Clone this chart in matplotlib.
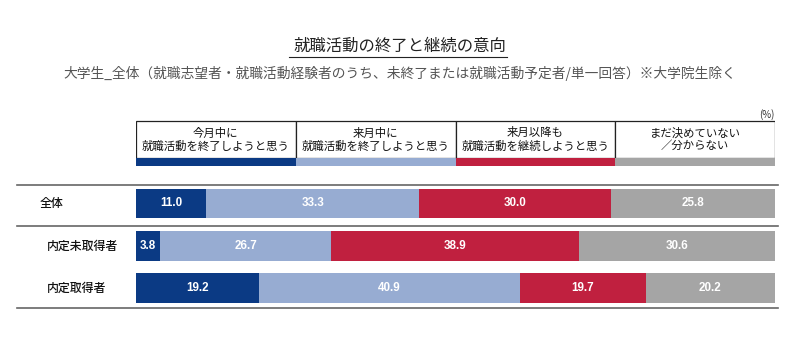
import matplotlib.pyplot as plt
from matplotlib.patches import Rectangle
import numpy as np

plt.rcParams['font.family'] = ['Noto Sans CJK JP', 'DejaVu Sans']

categories = ['全体', '内定未取得者', '内定取得者']
series_names = ['今月中に\n就職活動を終了しようと思う',
                '来月中に\n就職活動を終了しようと思う',
                '来月以降も\n就職活動を継続しようと思う',
                'まだ決めていない\n／分からない']
values = np.array([
    [11.0, 33.3, 30.0, 25.8],
    [3.8, 26.7, 38.9, 30.6],
    [19.2, 40.9, 19.7, 20.2],
])
colors = ['#0b3a84', '#97acd2', '#c0203f', '#a5a5a5']

title = '就職活動の終了と継続の意向'
subtitle = '大学生_全体（就職志望者・就職活動経験者のうち、未終了または就職活動予定者/単一回答）※大学院生除く'

fig = plt.figure(figsize=(8, 3.53), dpi=100)
# axes spans bar area horizontally; y in pixel units (top = 0)
ax = fig.add_axes([136 / 800, 0, 639 / 800, 1])
ax.set_xlim(0, 100)
ax.set_ylim(353, 0)
ax.axis('off')

fig.text(0.5, 1 - 46 / 353, title, ha='center', va='center', fontsize=11.8, color='#222222')
fig.add_artist(plt.Line2D([289 / 800, 507 / 800], [1 - 56.5 / 353, 1 - 56.5 / 353], color='#222222', lw=0.8))
fig.text(0.5, 1 - 73 / 353, subtitle, ha='center', va='center', fontsize=9.9, color='#555555')

# legend header boxes
for i, name in enumerate(series_names):
    ax.add_patch(Rectangle((i * 25, 121), 25, 37, facecolor='white', edgecolor='#222222', lw=0.9))
    ax.add_patch(Rectangle((i * 25, 158), 25, 8, facecolor=colors[i], edgecolor='none'))
    ax.text(i * 25 + 12.5, 139.5, name, ha='center', va='center', fontsize=8.2,
            color='#111111', linespacing=1.2)
ax.text(100, 115, '(%)', ha='right', va='center', fontsize=7, color='#333333')

# bars
centers = [203.5, 246, 288]
lefts = np.zeros(len(categories))
for j in range(values.shape[1]):
    ax.barh(centers, values[:, j], left=lefts, height=29.5, color=colors[j], edgecolor='none')
    for k in range(len(categories)):
        v = values[k, j]
        ax.text(lefts[k] + v / 2, centers[k], f'{v:.1f}', ha='center', va='center', fontsize=8.4,
                color='white', fontweight='bold', family=['Liberation Sans', 'DejaVu Sans'])
    lefts += values[:, j]

# row labels
label_x = [40, 47, 47]
for k, cat in enumerate(categories):
    ax.text((label_x[k] - 136) / 639 * 100, centers[k], cat, ha='left', va='center',
            fontsize=8.6, color='#111111', fontweight='medium', clip_on=False)

# separators
for y in [185, 226, 308]:
    ax.plot([(17 - 136) / 639 * 100, (778 - 136) / 639 * 100], [y, y],
            color='#666666', lw=1.2, clip_on=False)

fig.savefig('out.png', dpi=100)
